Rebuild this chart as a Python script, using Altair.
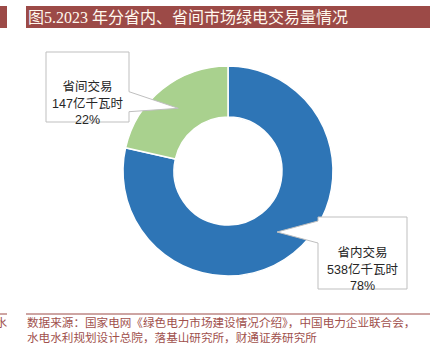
import altair as alt
import pandas as pd

# ---- data ----
categories = ["省内交易", "省间交易"]
values = [538, 147]
unit = "亿千瓦时"
shares = ["78%", "22%"]
slice_colors = ["#2E75B6", "#A9D18E"]

title_text = "图5.2023 年分省内、省间市场绿电交易量情况"
source_lines = [
    "数据来源：国家电网《绿色电力市场建设情况介绍》，中国电力企业联合会，",
    "水电水利规划设计总院，落基山研究所，财通证券研究所",
]

df = pd.DataFrame({"cat": categories, "value": values, "share": shares,
                   "idx": list(range(len(categories)))})
df["label"] = [f"{c}\n{v}{unit}\n{s}" for c, v, s in zip(categories, values, shares)]

W, H = 440, 354
CX, CY = 228, 171
RED = "#9C4A47"
SRC = "#A0504C"
CJK = "Noto Sans CJK SC"

# ---- donut ----
donut = alt.Chart(df).mark_arc(
    innerRadius=54, outerRadius=105, stroke="white", strokeWidth=1.5
).encode(
    theta=alt.Theta("value:Q", stack=True),
    color=alt.Color("cat:N", scale=alt.Scale(domain=categories, range=slice_colors), legend=None),
    order=alt.Order("idx:Q"),
    x=alt.value(CX),
    y=alt.value(CY),
)

# ---- callouts (box + pointer drawn as one symbol path, 1 px per unit at size 4) ----
callout_style = {
    "省内交易": dict(cx=362.5, cy=253,
                 path="M-44.5,-36 L44.5,-36 L44.5,36 L-44.5,36 L-44.5,-10 L-85.5,-21 L-44.5,-32 Z"),
    "省间交易": dict(cx=87.5, cy=87,
                 path="M-41.5,-35 L41.5,-35 L41.5,4.7 L90.8,21.3 L41.5,24.7 L41.5,35 L-41.5,35 Z"),
}

callout_layers = []
for cat in categories:
    st = callout_style[cat]
    base = alt.Chart(df).transform_filter(alt.datum.cat == cat)
    box = base.mark_point(
        shape=st["path"], size=4, filled=True, fill="white", stroke="#BFBFBF",
        strokeWidth=1, opacity=1
    ).encode(x=alt.value(st["cx"]), y=alt.value(st["cy"]))
    txt = base.mark_text(
        lineBreak="\n", lineHeight=16.5, fontSize=12.5, font=f"Liberation Sans, {CJK}",
        color="#262626", align="center", baseline="middle"
    ).encode(x=alt.value(st["cx"]), y=alt.value(st["cy"]), text="label:N")
    callout_layers += [box, txt]

# ---- title bar ----
one = pd.DataFrame({"k": [0]})
bar = alt.Chart(one).mark_rect(color=RED).encode(
    x=alt.value(26), x2=alt.value(430), y=alt.value(6), y2=alt.value(28))
stub = alt.Chart(one).mark_rect(color=RED).encode(
    x=alt.value(0), x2=alt.value(7), y=alt.value(6), y2=alt.value(28))
title = alt.Chart(one).mark_text(
    text=title_text, align="left", baseline="middle", fontSize=16,
    font=f"Liberation Serif, {CJK}", color="#FFF8EE"
).encode(x=alt.value(28), y=alt.value(17.5))

# ---- source footnote ----
rule = alt.Chart(one).mark_rule(color=RED, strokeWidth=1).encode(
    x=alt.value(26), x2=alt.value(430), y=alt.value(314))
rule_stub = alt.Chart(one).mark_rule(color=RED, strokeWidth=1).encode(
    x=alt.value(0), x2=alt.value(7), y=alt.value(314))
src_layers = []
for i, line in enumerate(source_lines):
    src_layers.append(alt.Chart(one).mark_text(
        text=line, align="left", baseline="middle", fontSize=11.6, font=CJK, color=SRC
    ).encode(x=alt.value(27), y=alt.value(324 + 14.5 * i)))
src_stub = alt.Chart(one).mark_text(
    text="水", align="right", baseline="middle", fontSize=11.6, font=CJK, color=SRC
).encode(x=alt.value(7), y=alt.value(324))

chart = alt.layer(
    donut, *callout_layers, bar, stub, title, rule, rule_stub, *src_layers, src_stub
).properties(
    width=W, height=H, autosize=alt.AutoSizeParams(type="none"), padding=0,
    background="white"
).configure_view(stroke=None)

chart.save("out.html", embed_options={"renderer": "svg", "actions": False})
